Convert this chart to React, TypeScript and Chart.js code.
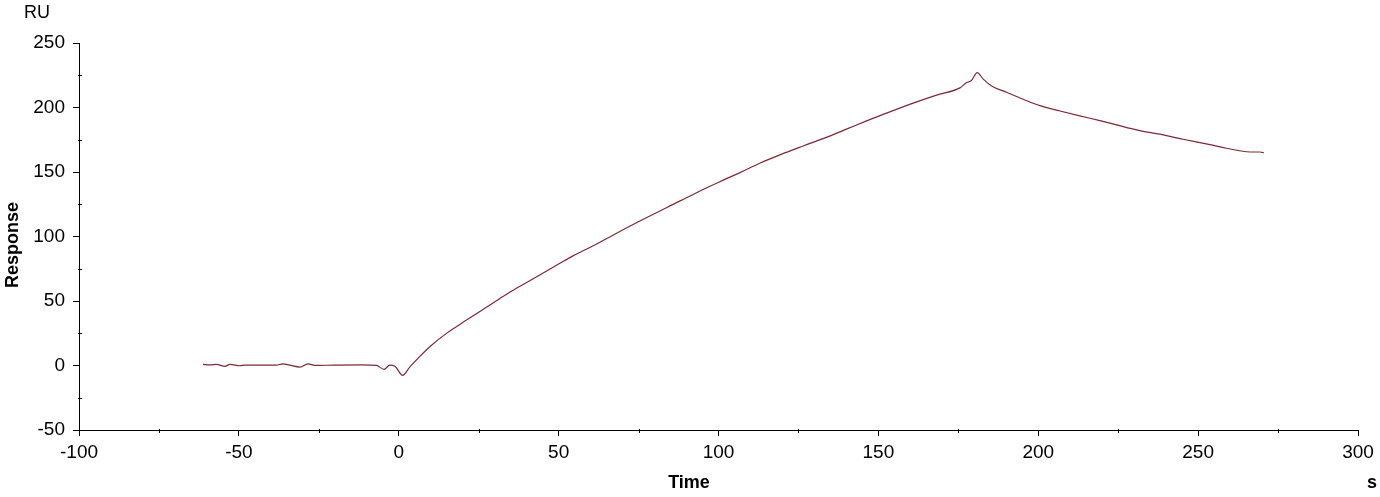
import { useEffect, useRef } from 'react'
import { Chart, registerables } from 'chart.js'

Chart.register(...registerables)

// sensorgram (time in s, response in RU)
const timeValues = [
  -61.2, -59.1, -57.0, -54.4, -52.8, -49.7, -48.2, -38.3, -36.2, -34.1, -30.9, -28.4, -26.2, -20.5,
  -11.7, -7.0, -4.6, -2.8, -1.2, 1.2, 3.5, 6.0, 9.7, 14.9, 21.2, 27.4, 32.6, 36.8, 44.1, 50.4, 54.5,
  60.8, 67.1, 75.4, 88.0, 94.2, 100.4, 106.7, 112.9, 119.2, 126.5, 132.7, 140.0, 146.3, 152.5, 160.9,
  168.2, 175.5, 177.6, 179.1, 180.9, 182.8, 185.4, 190.1, 195.3, 200.5, 206.8, 213.0, 219.3, 224.5,
  231.8, 238.0, 245.3, 253.7, 258.9, 266.2, 269.3, 270.6,
]
const responseValues = [
  0.9, 0.5, 0.9, -0.7, 0.9, -0.2, 0.3, 0.3, 1.3, 0.3, -1.2, 1.3, 0.1, 0.3,
  0.5, 0.1, -3.0, 0.3, -0.5, -7.7, -1.0, 5.5, 14.5, 24.9, 35.2, 45.1, 53.4, 59.8, 70.1, 79.2, 85.0,
  92.8, 101.2, 112.0, 127.6, 135.3, 142.5, 149.5, 156.8, 163.3, 170.2, 175.9, 183.2, 189.6, 195.6, 203.4,
  209.6, 215.2, 219.3, 220.9, 227.1, 222.0, 216.7, 211.8, 206.4, 201.4, 197.3, 193.5, 189.8, 186.5,
  182.1, 179.3, 175.4, 171.2, 168.4, 165.5, 165.5, 164.9,
]

const xRange = [-100, 300]
const yRange = [-50, 250]
const majorStep = 50

const FONT = '"Liberation Sans", Arial, sans-serif'

// minor ticks halfway between the major ones + the axis/unit captions
const decorations = {
  id: 'decorations',
  afterDraw(chart: any) {
    const { ctx, chartArea } = chart
    const xs = chart.scales.x
    const ys = chart.scales.y
    ctx.save()
    ctx.strokeStyle = '#000'
    ctx.lineWidth = 1
    ctx.beginPath()
    for (let v = xRange[0] + majorStep / 2; v < xRange[1]; v += majorStep) {
      const px = Math.round(xs.getPixelForValue(v)) + 0.5
      ctx.moveTo(px, chartArea.bottom - 1)
      ctx.lineTo(px, chartArea.bottom + 3)
    }
    for (let v = yRange[0] + majorStep / 2; v < yRange[1]; v += majorStep) {
      const py = Math.round(ys.getPixelForValue(v)) + 0.5
      ctx.moveTo(chartArea.left - 1, py)
      ctx.lineTo(chartArea.left + 3, py)
    }
    ctx.stroke()

    ctx.fillStyle = '#000'
    ctx.textBaseline = 'middle'
    ctx.font = `18px ${FONT}`
    ctx.textAlign = 'left'
    ctx.fillText('RU', 24, 13)
    ctx.font = `bold 18px ${FONT}`
    ctx.textAlign = 'center'
    ctx.fillText('s', chartArea.right + 14, 483)
    ctx.fillText('Time', 689, 483)
    ctx.translate(13, 245)
    ctx.rotate(-Math.PI / 2)
    ctx.fillText('Response', 0, 0)
    ctx.restore()
  },
}

export default function App() {
  const chartRef = useRef<HTMLCanvasElement>(null)

  useEffect(() => {
    if (!chartRef.current) return

    const axis = {
      type: 'linear' as const,
      grid: {
        display: true,
        drawOnChartArea: false,
        drawTicks: true,
        tickLength: 6,
        color: '#000',
      },
      border: { display: true, color: '#000', width: 1 },
    }

    const chart = new Chart(chartRef.current, {
      type: 'line',
      data: {
        datasets: [
          {
            label: 'Response',
            data: timeValues.map((t, i) => ({ x: t, y: responseValues[i] })),
            borderColor: '#7d2a33',
            borderWidth: 1.2,
            pointRadius: 0,
            cubicInterpolationMode: 'monotone',
            fill: false,
          },
        ],
      },
      options: {
        responsive: true,
        maintainAspectRatio: false,
        animation: false,
        layout: { padding: { left: 0, right: 22, top: 43, bottom: 0 } },
        plugins: {
          legend: { display: false },
          tooltip: { enabled: false },
        },
        scales: {
          x: {
            ...axis,
            min: xRange[0],
            max: xRange[1],
            ticks: {
              stepSize: majorStep,
              color: '#000',
              padding: 5,
              maxRotation: 0,
              font: { family: FONT, size: 19 },
            },
            afterFit: (scale: any) => {
              scale.height = 67
            },
          },
          y: {
            ...axis,
            min: yRange[0],
            max: yRange[1],
            ticks: {
              stepSize: majorStep,
              color: '#000',
              padding: 8,
              font: { family: FONT, size: 19 },
            },
            afterFit: (scale: any) => {
              scale.width = 79
            },
          },
        },
      },
      plugins: [decorations],
    })

    return () => chart.destroy()
  }, [])

  return (
    <div style={{ position: 'absolute', left: 0, top: 0, width: 1380, height: 497, background: '#fff' }}>
      <canvas ref={chartRef} />
    </div>
  )
}
